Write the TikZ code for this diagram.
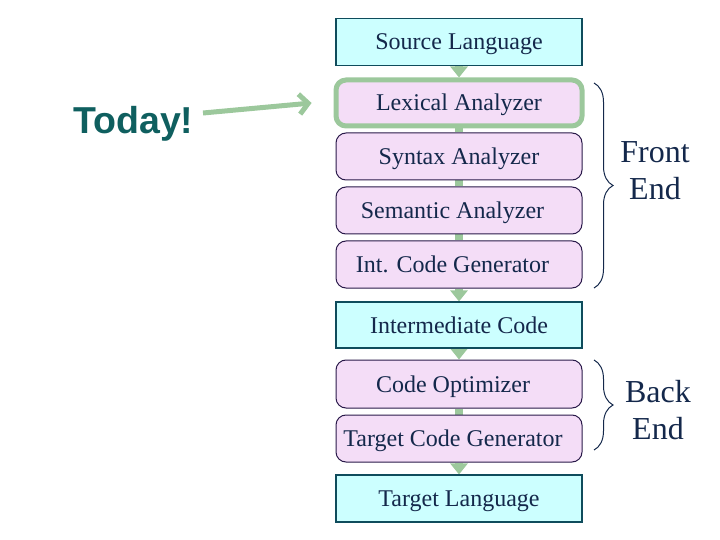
\documentclass[tikz,border=0pt]{standalone}
\usepackage{fontspec}
\setmainfont{Liberation Serif}
\newfontfamily\todayfont{Liberation Sans}
\usetikzlibrary{arrows.meta,decorations.pathreplacing}
\definecolor{arrgreen}{HTML}{9CC89C}
\definecolor{cyanfill}{HTML}{CCFFFF}
\definecolor{cyanline}{HTML}{0F4C5C}
\definecolor{pinkfill}{HTML}{F4DDF7}
\definecolor{pinkline}{HTML}{2A1A4A}
\definecolor{txt}{HTML}{14284B}
\definecolor{todaycol}{HTML}{0F5F5F}
\pgfdeclarelayer{bg}
\pgfsetlayers{bg,main}
\tikzset{
  stagebox/.style={minimum width=246bp, minimum height=47bp, inner sep=0pt, text=txt,
    text height=16bp, text depth=0pt,
    font=\fontsize{24bp}{28bp}\selectfont},
  databox/.style={stagebox, draw=cyanline, fill=cyanfill, line width=1.1bp},
  phasebox/.style={stagebox, draw=pinkline, fill=pinkfill, line width=1bp, rounded corners=10bp},
  curbox/.style={phasebox, draw=arrgreen, line width=5bp, minimum height=46bp},
  flowarrow/.style={draw=arrgreen, line width=8bp, -{Triangle[width=17bp,length=11bp]}},
  flowbar/.style={draw=arrgreen, line width=8bp},
  bracestyle/.style={draw=txt, line width=1bp, decorate, decoration={brace, amplitude=19bp, aspect=0.5}},
  sidetext/.style={text=txt, align=center, font=\fontsize{32bp}{37bp}\selectfont, inner sep=0pt}
}
\begin{document}
\begin{tikzpicture}[x=1bp,y=-1bp]
\useasboundingbox (0,0) rectangle (720,540);
\node[databox] (src) at (459,42) {Source Language};
\node[curbox] (lex) at (459,103) {Lexical Analyzer};
\node[phasebox] (syn) at (459,156.5) {Syntax Analyzer};
\node[phasebox] (sem) at (459,210.5) {Semantic Analyzer\hspace*{13bp}};
\node[phasebox] (icg) at (459,264.5) {Int. Code Generator\hspace*{13bp}};
\node[databox, minimum height=46bp] (ic) at (459,325) {Intermediate Code};
\node[phasebox, minimum height=48bp] (opt) at (459,384) {Code Optimizer\hspace*{12bp}};
\node[phasebox] (tcg) at (459,438.5) {Target Code Generator\hspace*{12bp}};
\node[databox] (tl) at (459,498.5) {Target Language};

\begin{pgfonlayer}{bg}
\draw[flowarrow] (src.south) -- (lex.north);
\draw[flowbar] (lex.south) -- (syn.north);
\draw[flowbar] (syn.south) -- (sem.north);
\draw[flowbar] (sem.south) -- (icg.north);
\draw[flowarrow] (icg.south) -- (ic.north);
\draw[flowarrow] (ic.south) -- (opt.north);
\draw[flowbar] (opt.south) -- (tcg.north);
\draw[flowarrow] (tcg.south) -- (tl.north);
\end{pgfonlayer}

\node[anchor=base west, inner sep=0pt, text=todaycol, font=\todayfont\bfseries\fontsize{37.5bp}{40bp}\selectfont] (today) at (73,134) {Today!};
\coordinate (arrstart) at (203,113);
\draw[draw=arrgreen, line width=5bp, shorten >=22bp, -{Straight Barb[length=9bp,width=20bp]}] (arrstart) -- (lex.west |- 0,101);

\coordinate (feTop) at (594,83);
\coordinate (feBot) at (594,288);
\draw[bracestyle] (feTop) -- (feBot);
\node[sidetext] (fe) at (655,171) {Front\\End};

\coordinate (beTop) at (594,360);
\coordinate (beBot) at (594,450);
\draw[bracestyle] (beTop) -- (beBot);
\node[sidetext] (be) at (658,410) {Back\\End};
\end{tikzpicture}
\end{document}
